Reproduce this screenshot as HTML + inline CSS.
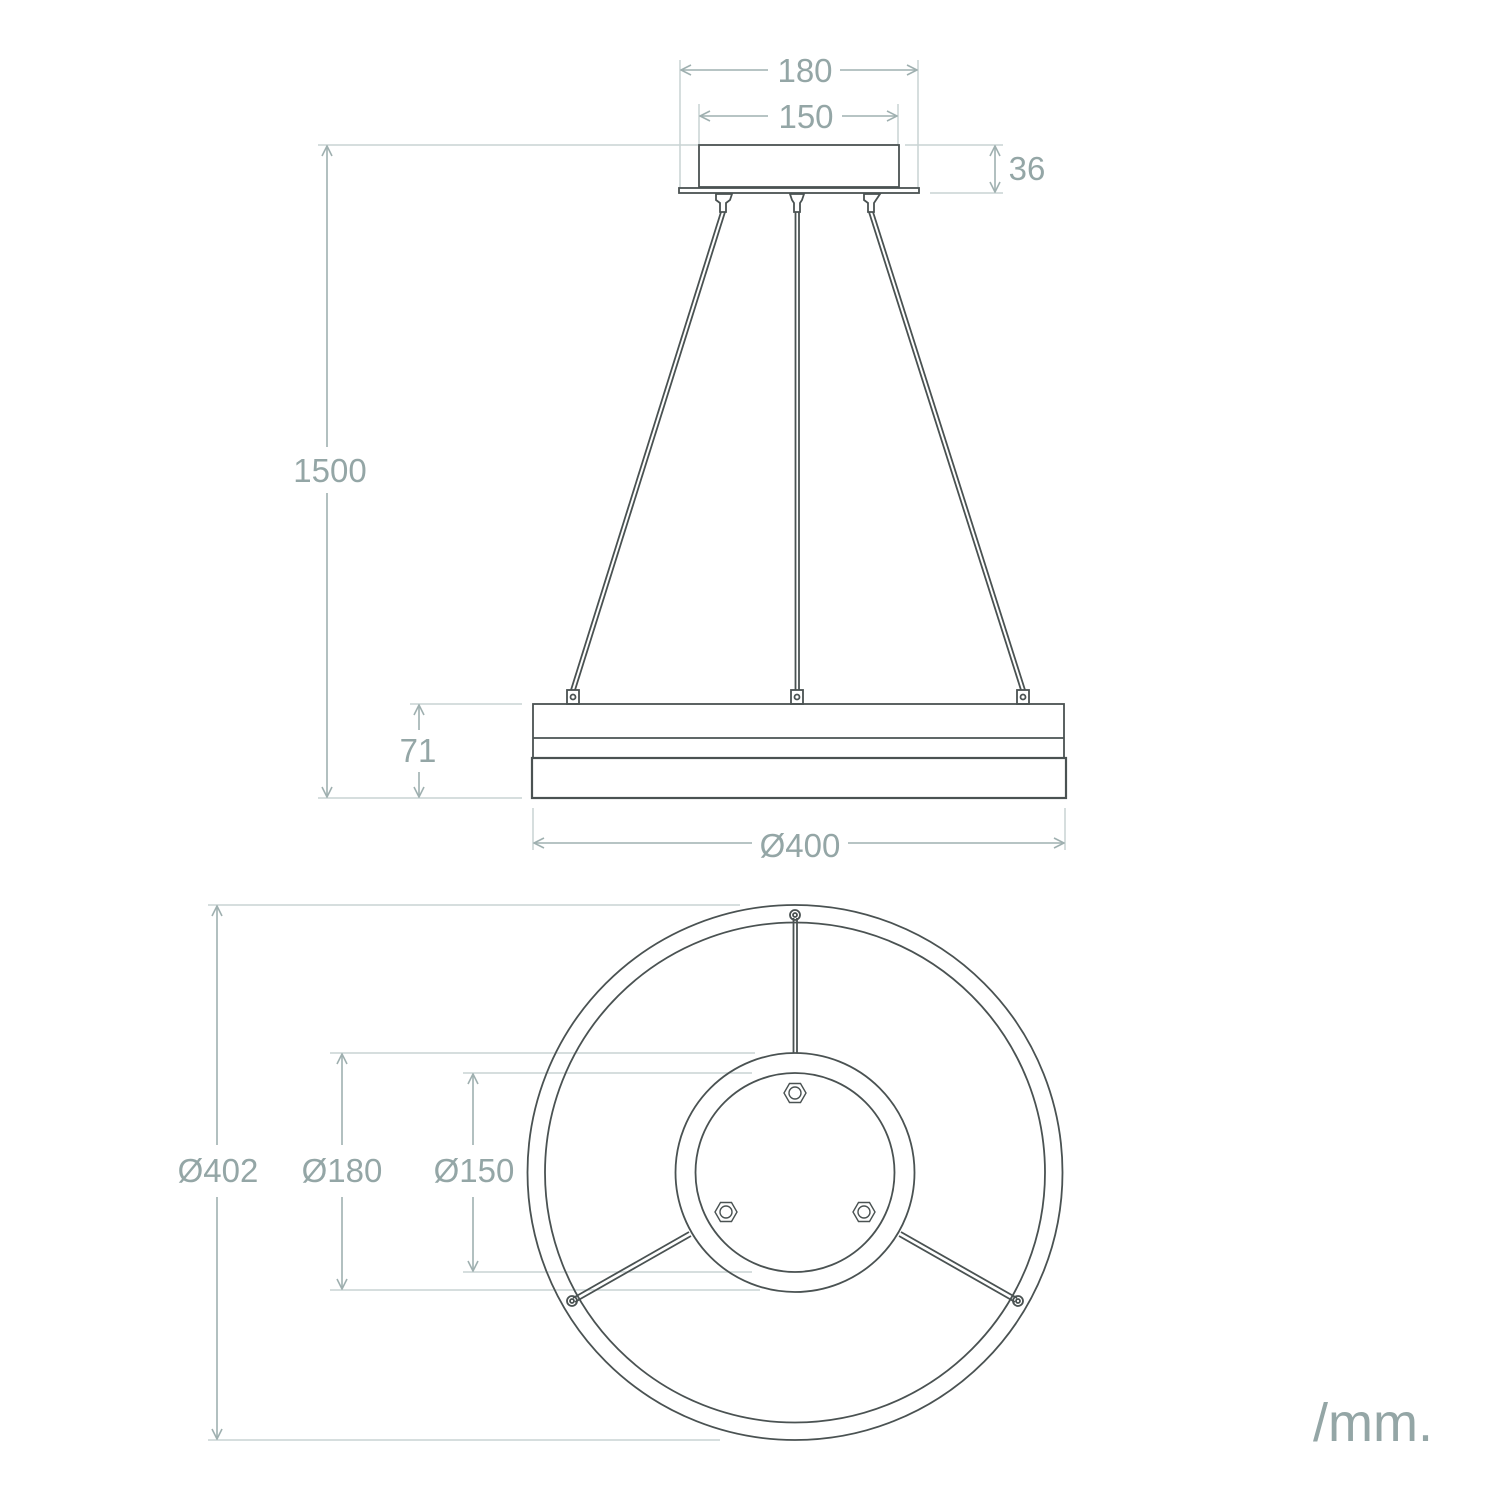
<!DOCTYPE html>
<html><head><meta charset="utf-8"><style>
html,body{margin:0;padding:0;background:#fff}
svg{display:block}
text{font-family:"Liberation Sans",sans-serif;fill:#94a6a6;font-size:33px}
</style></head><body>
<svg width="1500" height="1500" viewBox="0 0 1500 1500" xmlns="http://www.w3.org/2000/svg">
<defs>
<marker id="a" viewBox="0 0 12 12" refX="11" refY="6" markerWidth="12" markerHeight="12" markerUnits="userSpaceOnUse" orient="auto-start-reverse">
<path d="M1,1 L11,6 L1,11" fill="none" stroke="#9fb0b0" stroke-width="1.6"/>
</marker>
</defs>
<g stroke="#c9d3d3" stroke-width="1.5" fill="none">
<!-- extension lines -->
<line x1="680" y1="60" x2="680" y2="190"/><line x1="918" y1="60" x2="918" y2="190"/>
<line x1="699" y1="104" x2="699" y2="145"/><line x1="898" y1="104" x2="898" y2="145"/>
<line x1="905" y1="145" x2="1003" y2="145"/><line x1="930" y1="193" x2="1003" y2="193"/>
<line x1="318" y1="145" x2="698" y2="145"/><line x1="318" y1="798" x2="522" y2="798"/>
<line x1="410" y1="704" x2="522" y2="704"/>
<line x1="533" y1="808" x2="533" y2="850"/><line x1="1065" y1="808" x2="1065" y2="850"/>
<line x1="208" y1="905" x2="740" y2="905"/><line x1="208" y1="1440" x2="720" y2="1440"/>
<line x1="330" y1="1053" x2="755" y2="1053"/><line x1="330" y1="1290" x2="760" y2="1290"/>
<line x1="463" y1="1073" x2="752" y2="1073"/><line x1="463" y1="1272" x2="752" y2="1272"/>
</g>
<g stroke="#9fb0b0" stroke-width="1.6" fill="none">
<line x1="681" y1="70" x2="768" y2="70" marker-start="url(#a)"/><line x1="840" y1="70" x2="917" y2="70" marker-end="url(#a)"/>
<line x1="700" y1="116" x2="768" y2="116" marker-start="url(#a)"/><line x1="842" y1="116" x2="897" y2="116" marker-end="url(#a)"/>
<line x1="995" y1="146" x2="995" y2="192" marker-start="url(#a)" marker-end="url(#a)"/>
<line x1="327" y1="146" x2="327" y2="447" marker-start="url(#a)"/><line x1="327" y1="493" x2="327" y2="797" marker-end="url(#a)"/>
<line x1="419" y1="705" x2="419" y2="730" marker-start="url(#a)"/><line x1="419" y1="772" x2="419" y2="797" marker-end="url(#a)"/>
<line x1="534" y1="843" x2="752" y2="843" marker-start="url(#a)"/><line x1="848" y1="843" x2="1064" y2="843" marker-end="url(#a)"/>
<line x1="217" y1="906" x2="217" y2="1145" marker-start="url(#a)"/><line x1="217" y1="1197" x2="217" y2="1439" marker-end="url(#a)"/>
<line x1="342" y1="1054" x2="342" y2="1145" marker-start="url(#a)"/><line x1="342" y1="1197" x2="342" y2="1289" marker-end="url(#a)"/>
<line x1="473" y1="1074" x2="473" y2="1145" marker-start="url(#a)"/><line x1="473" y1="1197" x2="473" y2="1271" marker-end="url(#a)"/>
</g>
<g text-anchor="middle">
<text x="805" y="82">180</text><text x="806" y="128">150</text>
<text x="1027" y="180">36</text><text x="330" y="482">1500</text>
<text x="418" y="762">71</text><text x="800" y="857">Ø400</text>
<text x="218" y="1182">Ø402</text><text x="342" y="1182">Ø180</text><text x="474" y="1182">Ø150</text>
</g>
<text x="1313" y="1441" style="font-size:54px">/mm.</text>
<g stroke="#4a5252" stroke-width="1.8" fill="none">
<!-- canopy -->
<rect x="699" y="145" width="200" height="42" fill="#fff"/>
<rect x="679" y="188" width="240" height="5" fill="#fff"/>
<path d="M716,194 L732,194 L730,200 L726,203 L726,212 L720,212 L720,203 L716,200Z"/>
<path d="M790,194 L804,194 L802,200 L800,203 L800,212 L794,212 L794,203 L792,200Z"/>
<path d="M864,194 L880,194 L876,200 L874,203 L874,212 L868,212 L868,203 L864,200Z"/>
<!-- cables -->
<line x1="721" y1="212" x2="571" y2="690"/><line x1="725" y1="212" x2="575" y2="690"/>
<line x1="795.5" y1="212" x2="795.5" y2="690"/><line x1="799" y1="212" x2="799" y2="690"/>
<line x1="869" y1="212" x2="1021" y2="690"/><line x1="873" y1="212" x2="1025" y2="690"/>
<!-- tabs -->
<rect x="567" y="690" width="12" height="14"/><circle cx="573" cy="697" r="2.5"/>
<rect x="791" y="690" width="12" height="14"/><circle cx="797" cy="697" r="2.5"/>
<rect x="1017" y="690" width="12" height="14"/><circle cx="1023" cy="697" r="2.5"/>
<!-- ring body -->
<rect x="533" y="704" width="531" height="54"/>
<line x1="533" y1="738" x2="1064" y2="738"/>
<rect x="532" y="758" width="534" height="40" stroke-width="2.2"/>
<!-- bottom view -->
<circle cx="795" cy="1172.5" r="267.5"/>
<circle cx="795" cy="1172.5" r="250"/>
<circle cx="795" cy="1172.5" r="119.5"/>
<circle cx="795" cy="1172.5" r="99.5"/>
<line x1="793.5" y1="918" x2="793.5" y2="1053"/><line x1="797" y1="918" x2="797" y2="1053"/>
<line x1="573" y1="1298" x2="689" y2="1232"/><line x1="575" y1="1302" x2="691" y2="1236"/>
<line x1="1017" y1="1298" x2="901" y2="1232"/><line x1="1015" y1="1302" x2="899" y2="1236"/>
<circle cx="795" cy="915" r="5"/><circle cx="795" cy="915" r="2"/>
<circle cx="572" cy="1301" r="5"/><circle cx="572" cy="1301" r="2"/>
<circle cx="1018" cy="1301" r="5"/><circle cx="1018" cy="1301" r="2"/>
<g stroke-width="1.4">
<path d="M784,1093 l5.5,-9.5 h11 l5.5,9.5 l-5.5,9.5 h-11z"/><circle cx="795" cy="1093" r="6"/>
<path d="M715,1212 l5.5,-9.5 h11 l5.5,9.5 l-5.5,9.5 h-11z"/><circle cx="726" cy="1212" r="6"/>
<path d="M853,1212 l5.5,-9.5 h11 l5.5,9.5 l-5.5,9.5 h-11z"/><circle cx="864" cy="1212" r="6"/>
</g>
</g>
</svg>
</body></html>
